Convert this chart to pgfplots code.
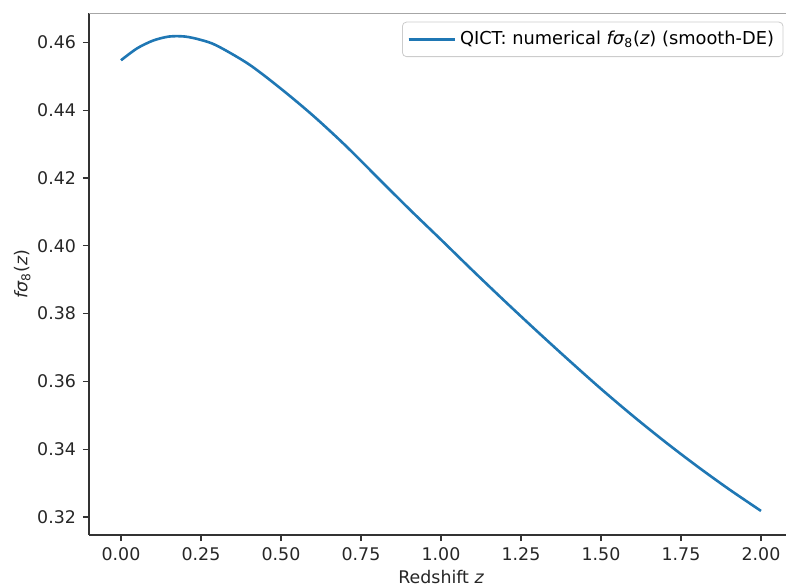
\documentclass[border=0pt]{standalone}
\usepackage{fontspec}
\setmainfont{DejaVu Sans}
\usepackage{pgfplots}
\pgfplotsset{compat=1.18}
\definecolor{mplblue}{HTML}{1F77B4}
\newcommand{\fsz}{\fontsize{8.7}{10.4}\selectfont}

\begin{document}
\begin{tikzpicture}
% page = the cropped region of the original figure
\useasboundingbox (-44.5pt,-26.5pt) rectangle (348.5pt,267.5pt);
\begin{axis}[
  scale only axis,
  width=352pt, height=260.75pt,
  xmin=-0.1, xmax=2.1,
  ymin=0.3147, ymax=0.4685,
  axis x line*=bottom, axis y line*=left,
  axis line style={-, black!80, line width=0.7pt},
  xtick={0,0.25,0.5,0.75,1,1.25,1.5,1.75,2},
  ytick={0.32,0.34,0.36,0.38,0.40,0.42,0.44,0.46},
  tick align=outside,
  major tick length=3pt,
  tick style={black!80, line width=0.6pt},
  ticklabel style={font=\fsz, text=black!85},
  x tick label style={/pgf/number format/.cd, fixed, fixed zerofill, precision=2, assume math mode=true, /tikz/.cd},
  y tick label style={/pgf/number format/.cd, fixed, fixed zerofill, precision=2, assume math mode=true, /tikz/.cd},
  xlabel={Redshift {\itshape z}},
  ylabel={{\itshape fσ}\textsubscript{8}({\itshape z})},
  label style={font=\fsz, text=black!85},
  xlabel shift=-2.5pt,
  ylabel shift=-3.5pt,
  legend style={at={(1,1)}, anchor=north east, xshift=-4.8pt, yshift=-4.1pt,
    draw=black!20, rounded corners=2pt, fill=white,
    font=\fontsize{8.9}{10.6}\selectfont,
    inner xsep=2.5pt, inner ysep=2.5pt},
  legend cell align=left,
  legend image code/.code={\draw[#1] (0pt,0pt) -- (19pt,0pt);
    \path (0pt,0pt) -- (23pt,0pt);},
]
% top frame line, light
\draw[black!35, line width=0.5pt] (rel axis cs:0,1) -- (rel axis cs:1,1);
\addplot[mplblue, line width=1.3pt, smooth] coordinates {
  (0.00,0.4547) (0.05,0.4582) (0.10,0.4605) (0.15,0.4617)
  (0.20,0.4617) (0.25,0.4607) (0.30,0.4590) (0.40,0.4535)
  (0.50,0.4463) (0.60,0.4384) (0.70,0.4297) (0.80,0.4203)
  (0.90,0.4109) (1.00,0.4018) (1.10,0.3926) (1.20,0.3836)
  (1.30,0.3748) (1.40,0.3662) (1.50,0.3578) (1.60,0.3498)
  (1.70,0.3422) (1.80,0.3350) (1.90,0.3282) (2.00,0.3218)
};
\addlegendentry{QICT: numerical {\itshape fσ}\textsubscript{8}({\itshape z}) (smooth-DE)}
\end{axis}
\end{tikzpicture}
\end{document}
